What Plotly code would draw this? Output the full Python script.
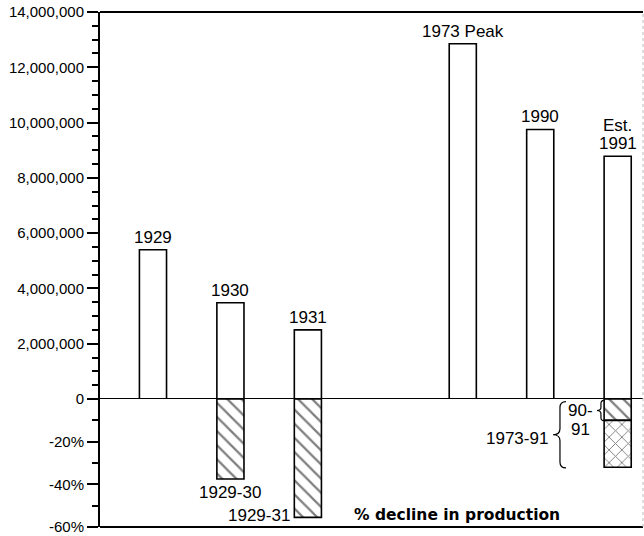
import plotly.graph_objects as go

# production of motor vehicles, bars above the zero line
categories = ["1929", "1930", "1931", "1973 Peak", "1990", "Est. 1991"]
production = [5_400_000, 3_480_000, 2_500_000, 12_850_000, 9_750_000, 8_780_000]

# % decline, bars below the zero line
decline_cats = ["1930", "1931"]
decline_vals = [-37.5, -55.5]
decline_labels = ["1929-30", "1929-31"]
decline_90_91 = -10
decline_73_91 = -32

# slot order on the x axis (None leaves a gap)
slot_order = ["1929", "1930", "1931", None, "1973 Peak", "1990", "Est. 1991"]
pos = {c: i for i, c in enumerate(slot_order) if c}

pos_ticks = [0, 2e6, 4e6, 6e6, 8e6, 10e6, 12e6, 14e6]
neg_ticks = [-20, -40, -60]
neg_ticktext = ["-20%", "-40%", "-60%"]

FONT = "Liberation Sans, Arial, sans-serif"
BW = 0.35
line = dict(color="black", width=1.6)
hatch = dict(shape="\\", size=10, solidity=0.22, fgcolor="black", bgcolor="white")

fig = go.Figure()

fig.add_trace(go.Bar(
    x=[pos[c] for c in categories], y=production, width=BW,
    marker=dict(color="white", line=line), yaxis="y", showlegend=False,
))

fig.add_trace(go.Bar(
    x=[pos[c] for c in decline_cats], y=decline_vals, width=BW,
    marker=dict(color="white", line=line, pattern=hatch),
    yaxis="y2", showlegend=False,
))
# 1991: 1990-91 decline on top, rest of 1973-91 decline crosshatched
x91 = pos["Est. 1991"]
fig.add_trace(go.Bar(
    x=[x91], y=[decline_90_91], width=BW,
    marker=dict(color="white", line=line, pattern=hatch),
    yaxis="y2", showlegend=False,
))
fig.add_trace(go.Bar(
    x=[x91], y=[decline_73_91 - decline_90_91], base=[decline_90_91], width=BW,
    marker=dict(color="white", line=line,
                pattern=dict(shape="x", size=9, solidity=0.2, fgcolor="black", bgcolor="white")),
    yaxis="y2", showlegend=False,
))

lab = dict(family=FONT, size=17, color="black")
for c, v in zip(categories, production):
    txt = "1991" if c == "Est. 1991" else c
    fig.add_annotation(x=pos[c], y=v, yref="y", text=txt, showarrow=False,
                       yanchor="bottom", yshift=1, font=lab)
fig.add_annotation(x=x91, y=production[-1], yref="y", text="Est.", showarrow=False,
                   yanchor="bottom", yshift=19, font=lab)

fig.add_annotation(x=pos["1930"], y=decline_vals[0], yref="y2", text=decline_labels[0],
                   showarrow=False, yanchor="top", yshift=-2, font=lab)
fig.add_annotation(x=pos["1931"] - BW / 2, y=decline_vals[1] + 1, yref="y2", text=decline_labels[1],
                   showarrow=False, xanchor="right", xshift=-2, yanchor="middle", font=lab)
fig.add_annotation(x=3.93, y=-54.4, yref="y2", text="<b>% decline in production</b>",
                   showarrow=False, yanchor="middle",
                   font=dict(family="DejaVu Sans, sans-serif", size=15.5, color="black"))

fig.add_annotation(x=5.13, y=-18.3, yref="y2", text="1973-91", showarrow=False,
                   xanchor="right", yanchor="middle", font=lab)
fig.add_annotation(x=5.52, y=-5.6, yref="y2", text="90-", showarrow=False,
                   yanchor="middle", font=lab)
fig.add_annotation(x=5.52, y=-14.2, yref="y2", text="91", showarrow=False,
                   yanchor="middle", font=lab)


def brace(x_tip, x_body, x_end, y_top, y_bot, r):
    ym = (y_top + y_bot) / 2
    return (f"M {x_end},{y_top} Q {x_body},{y_top} {x_body},{y_top - r} "
            f"L {x_body},{ym + r} Q {x_body},{ym} {x_tip},{ym} "
            f"Q {x_body},{ym} {x_body},{ym - r} "
            f"L {x_body},{y_bot + r} Q {x_body},{y_bot} {x_end},{y_bot}")


fig.add_shape(type="path", xref="x", yref="y2", path=brace(5.165, 5.255, 5.333, -1.2, -32.3, 2.8),
              line=dict(color="black", width=1.2))
fig.add_shape(type="path", xref="x", yref="y2", path=brace(5.733, 5.784, 5.823, -0.6, -10.2, 1.5),
              line=dict(color="black", width=1.2))

# frame and zero line
for yy, yr in [(1, "paper"), (0, "y"), (0, "paper")]:
    fig.add_shape(type="line", xref="paper", yref=yr, x0=0, x1=1, y0=yy, y1=yy,
                  line=dict(color="black", width=2))
fig.add_shape(type="line", xref="paper", yref="paper", x0=1, x1=1, y0=0, y1=1,
              line=dict(color="#bbbbbb", width=1, dash="dot"))

split = 128 / 515
tickfont = dict(family=FONT, size=15, color="black")
fig.update_layout(
    width=644, height=536,
    margin=dict(l=100, r=1, t=12, b=9),
    paper_bgcolor="white", plot_bgcolor="white",
    barmode="overlay",
    xaxis=dict(range=[-0.684, 6.327], showticklabels=False, ticks="", showgrid=False,
               zeroline=False, showline=False, anchor="y2"),
    yaxis=dict(domain=[split, 1], range=[0, 14e6], tickvals=pos_ticks, tickformat=",d",
               ticks="outside", ticklen=11, tickwidth=1.5, tickcolor="black",
               minor=dict(dtick=500000, tick0=0, ticks="outside", ticklen=6, tickwidth=1.5,
                          tickcolor="black", showgrid=False),
               showline=True, linewidth=2, linecolor="black", showgrid=False, zeroline=False,
               tickfont=tickfont),
    yaxis2=dict(domain=[0, split], range=[-60, 0], tickvals=neg_ticks, ticktext=neg_ticktext,
                ticks="outside", ticklen=11, tickwidth=1.5, tickcolor="black",
                minor=dict(dtick=10, tick0=0, ticks="outside", ticklen=6, tickwidth=1.5,
                           tickcolor="black", showgrid=False),
                showline=True, linewidth=2, linecolor="black", showgrid=False, zeroline=False,
                tickfont=tickfont, anchor="x"),
)

# drop the default 8px page margin so the figure sits at the window's corner
fig.write_html("out.html", config={"displayModeBar": False},
               post_script="document.body.style.margin='0';")
